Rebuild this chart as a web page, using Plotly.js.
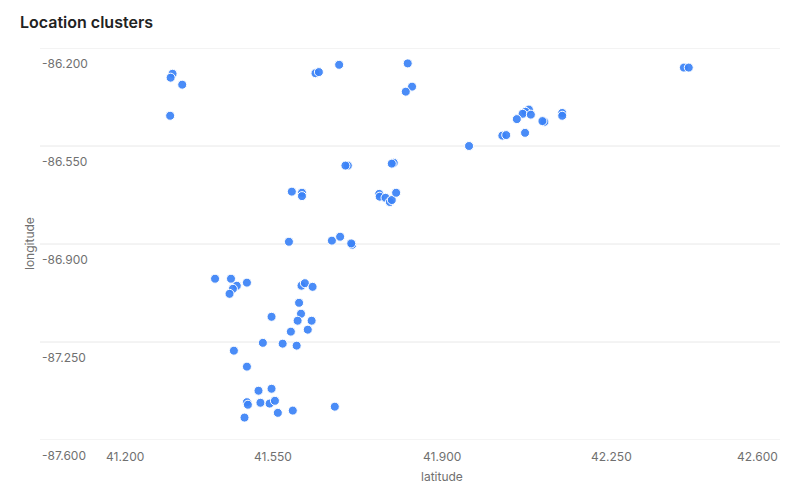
<!DOCTYPE html>
<html>
<head>
<meta charset="utf-8">
<script src="https://cdn.plot.ly/plotly-3.0.1.min.js"></script>
<style>
  html, body { margin: 0; padding: 0; background: #ffffff; }
  #chart { width: 800px; height: 500px; }
</style>
</head>
<body>
<div id="chart"></div>
<script>
// ---- data ----
const latitude = [
  41.342, 41.338, 41.362, 41.337,
  41.638, 41.645, 41.687,
  41.829, 41.838, 41.825,
  41.705, 41.700, 41.800, 41.796,
  41.589, 41.610, 41.610,
  41.770, 41.771, 41.783, 41.792, 41.796, 41.805,
  41.583, 41.672, 41.689, 41.714, 41.712,
  41.430, 41.463, 41.475, 41.467, 41.460, 41.496,
  41.609, 41.616, 41.632, 41.604,
  41.547, 41.608, 41.601, 41.630, 41.622, 41.587,
  41.529, 41.570, 41.599, 41.469, 41.496,
  41.520, 41.547, 41.496, 41.498, 41.524, 41.543, 41.554,
  41.560, 41.591, 41.678, 41.491,
  42.401, 42.411,
  42.080, 42.073, 42.067, 42.084, 42.055,
  42.149, 42.149, 42.112, 42.108,
  42.072, 42.025, 42.033, 41.956
];
const longitude = [
  -86.292, -86.306, -86.331, -86.442,
  -86.290, -86.286, -86.260,
  -86.255, -86.338, -86.356,
  -86.620, -86.620, -86.610, -86.613,
  -86.713, -86.717, -86.729,
  -86.721, -86.731, -86.735, -86.750, -86.743, -86.717,
  -86.892, -86.888, -86.874, -86.903, -86.898,
  -87.024, -87.024, -87.049, -87.060, -87.078, -87.038,
  -87.049, -87.040, -87.053, -87.110,
  -87.160, -87.149, -87.174, -87.174, -87.206, -87.213,
  -87.253, -87.256, -87.263, -87.281, -87.338,
  -87.424, -87.417, -87.465, -87.474, -87.467, -87.470, -87.460,
  -87.503, -87.495, -87.481, -87.520,
  -86.270, -86.270,
  -86.420, -86.428, -86.435, -86.438, -86.454,
  -86.432, -86.442, -86.464, -86.461,
  -86.503, -86.513, -86.511, -86.550
];
const xTicks = [41.2, 41.55, 41.9, 42.25, 42.6];
const xTickLabels = ["41.200", "41.550", "41.900", "42.250", "42.600"];
const yTicks = [-86.2, -86.55, -86.9, -87.25, -87.6];
const yTickLabels = ["-86.200", "-86.550", "-86.900", "-87.250", "-87.600"];
const chartTitle = "Location clusters";
const xTitle = "latitude";
const yTitle = "longitude";

// ---- layout geometry ----
const W = 800, H = 500;
const M = { l: 104, r: 20, t: 48, b: 60 };
const plotW = W - M.l - M.r;
const gridLeft = (40 - M.l) / plotW;   // gridlines and y labels start at x=40px
const FONT = "Inter, 'Noto Sans', sans-serif";
const tickFont = { family: FONT, size: 12, color: "#707070" };

const shapes = yTicks.map(v => ({
  type: "line", xref: "paper", yref: "y",
  x0: gridLeft, x1: 1, y0: v, y1: v,
  line: { color: "#e8e8e8", width: 1 }, layer: "below"
}));

const annotations = [];
yTicks.forEach((v, i) => {
  annotations.push({
    xref: "paper", yref: "y", x: gridLeft, y: v,
    xanchor: "left", yanchor: "middle", yshift: -15,
    text: yTickLabels[i], showarrow: false, font: tickFont
  });
});
xTicks.forEach((v, i) => {
  annotations.push({
    xref: "x", yref: "paper", x: v, y: 0,
    xanchor: i === 0 ? "left" : (i === xTicks.length - 1 ? "right" : "center"),
    yanchor: "middle", yshift: -16,
    text: xTickLabels[i], showarrow: false, font: tickFont
  });
});
annotations.push({
  xref: "paper", yref: "paper", x: 0.5, y: 0, xanchor: "center", yanchor: "middle",
  yshift: -36, text: xTitle, showarrow: false, font: tickFont
});
annotations.push({
  xref: "paper", yref: "paper", x: (29 - M.l) / plotW, y: 0.5,
  xanchor: "center", yanchor: "middle", textangle: -90,
  text: yTitle, showarrow: false, font: tickFont
});

const trace = {
  type: "scatter", mode: "markers",
  x: latitude, y: longitude,
  marker: {
    size: 9, color: "rgba(59,130,246,0.92)",
    line: { color: "#ffffff", width: 1 }
  },
  hoverinfo: "x+y"
};

const layout = {
  width: W, height: H,
  margin: M,
  paper_bgcolor: "#ffffff", plot_bgcolor: "#ffffff",
  showlegend: false,
  title: {
    text: chartTitle, xref: "container", yref: "container",
    x: 20 / W, xanchor: "left", y: 1 - 22 / H, yanchor: "middle",
    font: { family: FONT, size: 16, weight: 600, color: "#222222" }
  },
  xaxis: {
    range: [41.2, 42.6], showgrid: false, zeroline: false, showline: false,
    showticklabels: false, ticks: "", fixedrange: true
  },
  yaxis: {
    range: [-87.6, -86.2], showgrid: false, zeroline: false, showline: false,
    showticklabels: false, ticks: "", fixedrange: true
  },
  shapes: shapes,
  annotations: annotations,
  font: { family: FONT }
};

Plotly.newPlot("chart", [trace], layout, { displayModeBar: false, staticPlot: true });
</script>
</body>
</html>
